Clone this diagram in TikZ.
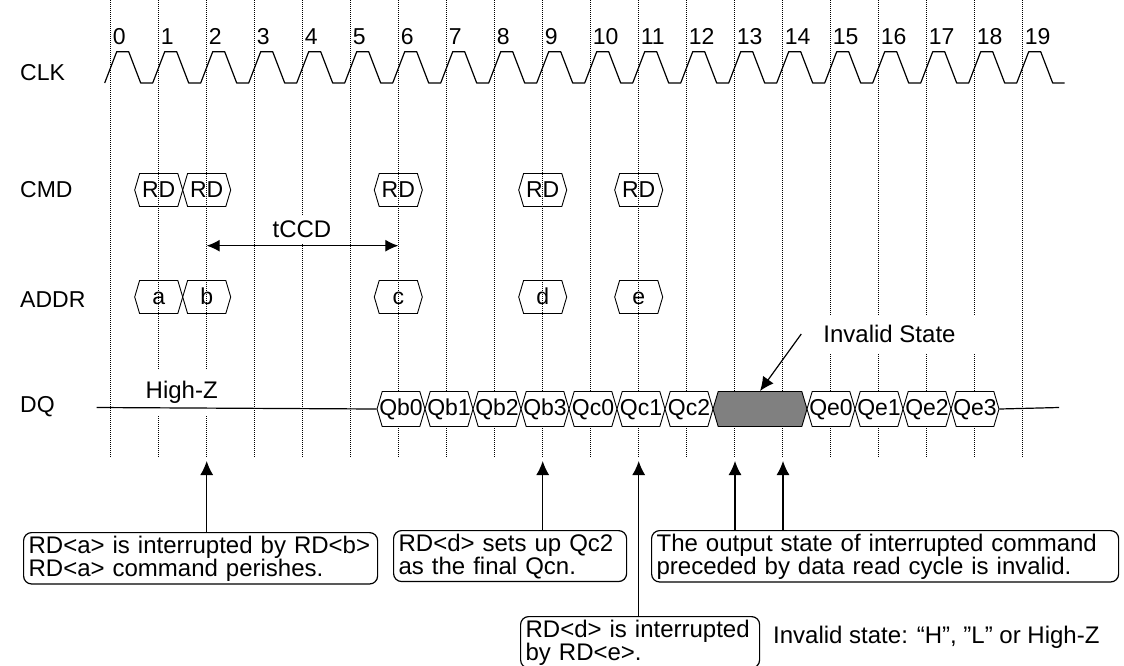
\documentclass[tikz,border=0pt]{standalone}
\usepackage{fontspec}
\setmainfont{Liberation Sans}
\usetikzlibrary{shapes.symbols,arrows.meta}

\newcommand\hexstrut{\rule[-2pt]{0pt}{18.5pt}}

\begin{document}
\begin{tikzpicture}[x=1pt,y=-1pt,font=\fontsize{23}{23}\selectfont,
  grid line/.style={line width=0.8pt,dash pattern=on 1pt off 1pt},
  wave/.style={line width=1.2pt,line join=round},
  hex/.style={shape=signal,signal to=west and east,signal pointer angle=147,
    draw,line width=0.9pt,inner sep=0pt,minimum width=48pt,minimum height=33pt},
  bus/.style={hex,fill=white,minimum height=35pt},
  note/.style={draw,rounded corners=8pt,line width=1.2pt,align=left,
    anchor=north west,inner xsep=5pt,inner ysep=3pt,font=\fontsize{24}{23}\selectfont},
  pointer/.style={-{Latex[length=14pt,width=13pt]},line width=1.2pt}]

  \useasboundingbox (0,0) rectangle (1124,665);

  % clock grid
  \foreach \k in {0,...,19} {
    \pgfmathsetmacro\gx{110.7+48*\k}
    \draw[grid line] (\gx,0) -- (\gx,458);
    \node[anchor=base west,inner sep=0pt] (n\k) at (\gx+2,44) {\k};
  }

  % signal names
  \node[anchor=west,inner sep=0pt] (clk) at (20,73) {CLK};
  \node[anchor=west,inner sep=0pt] (cmd) at (20,190) {CMD};
  \node[anchor=west,inner sep=0pt] (addr) at (20,300) {ADDR};
  \node[anchor=west,inner sep=0pt] (dq) at (20,407) {DQ};

  \draw[wave] (104.7,83) foreach \k in {0,...,19} {
    -- ++(12,-31.3) -- ++(12,0) -- ++(12,31.3) -- ++(12,0) };

  % commands and addresses
  \node[hex] (rda) at (158.7,190) {\makebox[0pt]{\hexstrut RD}};
  \node[hex] (rdb) at (206.7,190) {\makebox[0pt]{\hexstrut RD}};
  \node[hex] (rdc) at (398.3,190) {\makebox[0pt]{\hexstrut RD}};
  \node[hex] (rdd) at (542.7,190) {\makebox[0pt]{\hexstrut RD}};
  \node[hex] (rde) at (638.7,190) {\makebox[0pt]{\hexstrut RD}};

  \node[hex] (adra) at (158.7,297) {\makebox[0pt]{\hexstrut a}};
  \node[hex] (adrb) at (206.7,297) {\makebox[0pt]{\hexstrut b}};
  \node[hex] (adrc) at (398.3,297) {\makebox[0pt]{\hexstrut c}};
  \node[hex] (adrd) at (542.7,297) {\makebox[0pt]{\hexstrut d}};
  \node[hex] (adre) at (638.7,297) {\makebox[0pt]{\hexstrut e}};

  \node[fill=white,inner xsep=4pt,inner ysep=6pt,font=\fontsize{24}{23}\selectfont] (tccd) at (302,229) {tCCD};
  \coordinate (tccdl) at (206.7,245.7);
  \coordinate (tccdr) at (398.3,245.7);
  \draw[{Latex[length=13pt,width=12pt]}-{Latex[length=13pt,width=12pt]},line width=1.2pt] (tccdl) -- (tccdr);

  % data bus
  \node[fill=white,inner xsep=0pt,inner ysep=12pt,font=\fontsize{24}{23}\selectfont] (hiz) at (181.7,392) {High-Z};
  \foreach \i/\q in {0/Qb0,1/Qb1,2/Qb2,3/Qb3,4/Qc0,5/Qc1,6/Qc2}
    \node[bus] (\q) at (401+48*\i,409) {\makebox[0pt]{\hexstrut\q}};
  \node[bus,fill=black!50,minimum width=94pt] (inv) at (760,409) {};
  \foreach \i/\q in {0/Qe0,1/Qe1,2/Qe2,3/Qe3}
    \node[bus] (\q) at (831+48*\i,409) {\makebox[0pt]{\hexstrut\q}};
  \coordinate (dqbeg) at (96.7,407.5);
  \coordinate (dqend) at (1059,407.5);
  \draw[wave] (dqbeg) -- (Qb0.west);
  \draw[wave] (Qe3.east) -- (dqend);

  \node[fill=white,inner xsep=22pt,inner ysep=10pt,font=\fontsize{24}{23}\selectfont] (invlab) at (889.5,334) {Invalid State};
  \draw[pointer] (invlab.west) -- (inv.north);

  % notes
  \node[note,text width=344pt] (nb) at (23,532)
    {RD<a> is interrupted by RD<b>\\RD<a> command perishes.};
  \node[note,text width=223pt] (nd) at (393,530)
    {RD<d> sets up Qc2\\as the final Qcn.};
  \node[note,text width=457pt] (nout) at (651,530)
    {The output state of interrupted command\\preceded by data read cycle is invalid.};
  \node[note,text width=229pt] (ne) at (520,616)
    {RD<d> is interrupted\\by RD<e>.};
  \node[anchor=west,inner sep=0pt,font=\fontsize{24}{23}\selectfont] (invnote) at (773,637)
    {Invalid state: “H”, ”L” or High-Z};

  \coordinate (pb) at (206.7,461);
  \coordinate (pd) at (542.7,461);
  \coordinate (pe) at (638.7,461);
  \coordinate (pi) at (735,461);
  \coordinate (pj) at (783,461);
  \draw[pointer] (nb.north -| pb) -- (pb);
  \draw[pointer] (nd.north -| pd) -- (pd);
  \draw[pointer] (ne.north -| pe) -- (pe);
  \draw[pointer] (nout.north -| pi) -- (pi);
  \draw[pointer] (nout.north -| pj) -- (pj);
\end{tikzpicture}
\end{document}
